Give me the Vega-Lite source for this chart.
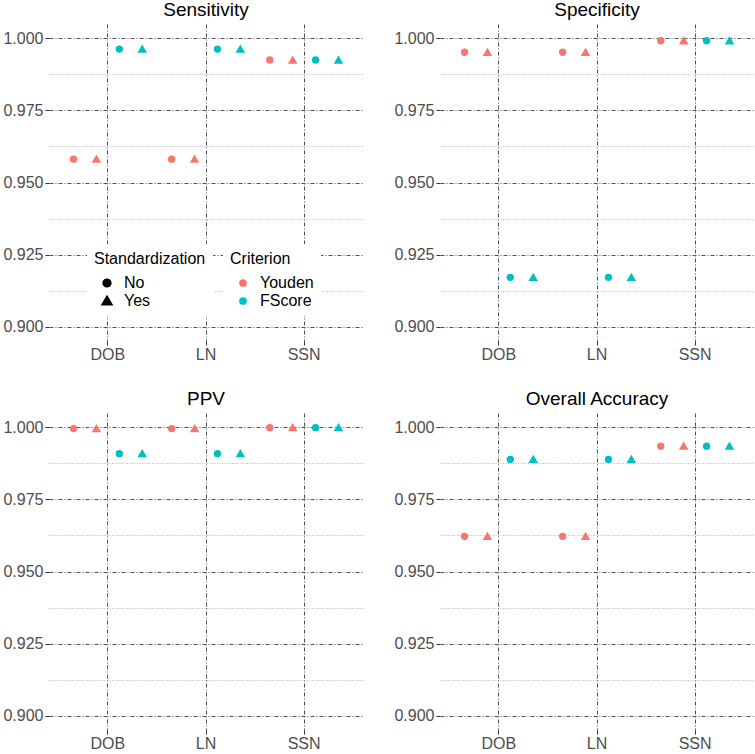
{
  "$schema": "https://vega.github.io/schema/vega-lite/v6.json",
  "padding": {"top": 1, "left": 2, "right": 2, "bottom": 0},
  "background": "white",
  "data": {"values": [
    {"metric": "Sensitivity", "variable": "DOB", "criterion": "Youden", "std": "No", "grp": "Youden No", "value": 0.9581},
    {"metric": "Sensitivity", "variable": "DOB", "criterion": "Youden", "std": "Yes", "grp": "Youden Yes", "value": 0.9581},
    {"metric": "Sensitivity", "variable": "DOB", "criterion": "FScore", "std": "No", "grp": "FScore No", "value": 0.9963},
    {"metric": "Sensitivity", "variable": "DOB", "criterion": "FScore", "std": "Yes", "grp": "FScore Yes", "value": 0.9963},
    {"metric": "Sensitivity", "variable": "LN", "criterion": "Youden", "std": "No", "grp": "Youden No", "value": 0.9581},
    {"metric": "Sensitivity", "variable": "LN", "criterion": "Youden", "std": "Yes", "grp": "Youden Yes", "value": 0.9581},
    {"metric": "Sensitivity", "variable": "LN", "criterion": "FScore", "std": "No", "grp": "FScore No", "value": 0.9963},
    {"metric": "Sensitivity", "variable": "LN", "criterion": "FScore", "std": "Yes", "grp": "FScore Yes", "value": 0.9963},
    {"metric": "Sensitivity", "variable": "SSN", "criterion": "Youden", "std": "No", "grp": "Youden No", "value": 0.9925},
    {"metric": "Sensitivity", "variable": "SSN", "criterion": "Youden", "std": "Yes", "grp": "Youden Yes", "value": 0.9925},
    {"metric": "Sensitivity", "variable": "SSN", "criterion": "FScore", "std": "No", "grp": "FScore No", "value": 0.9925},
    {"metric": "Sensitivity", "variable": "SSN", "criterion": "FScore", "std": "Yes", "grp": "FScore Yes", "value": 0.9925},
    {"metric": "Specificity", "variable": "DOB", "criterion": "Youden", "std": "No", "grp": "Youden No", "value": 0.9952},
    {"metric": "Specificity", "variable": "DOB", "criterion": "Youden", "std": "Yes", "grp": "Youden Yes", "value": 0.9952},
    {"metric": "Specificity", "variable": "DOB", "criterion": "FScore", "std": "No", "grp": "FScore No", "value": 0.9171},
    {"metric": "Specificity", "variable": "DOB", "criterion": "FScore", "std": "Yes", "grp": "FScore Yes", "value": 0.9171},
    {"metric": "Specificity", "variable": "LN", "criterion": "Youden", "std": "No", "grp": "Youden No", "value": 0.9952},
    {"metric": "Specificity", "variable": "LN", "criterion": "Youden", "std": "Yes", "grp": "Youden Yes", "value": 0.9952},
    {"metric": "Specificity", "variable": "LN", "criterion": "FScore", "std": "No", "grp": "FScore No", "value": 0.9171},
    {"metric": "Specificity", "variable": "LN", "criterion": "FScore", "std": "Yes", "grp": "FScore Yes", "value": 0.9171},
    {"metric": "Specificity", "variable": "SSN", "criterion": "Youden", "std": "No", "grp": "Youden No", "value": 0.9992},
    {"metric": "Specificity", "variable": "SSN", "criterion": "Youden", "std": "Yes", "grp": "Youden Yes", "value": 0.9992},
    {"metric": "Specificity", "variable": "SSN", "criterion": "FScore", "std": "No", "grp": "FScore No", "value": 0.9992},
    {"metric": "Specificity", "variable": "SSN", "criterion": "FScore", "std": "Yes", "grp": "FScore Yes", "value": 0.9992},
    {"metric": "PPV", "variable": "DOB", "criterion": "Youden", "std": "No", "grp": "Youden No", "value": 0.9996},
    {"metric": "PPV", "variable": "DOB", "criterion": "Youden", "std": "Yes", "grp": "Youden Yes", "value": 0.9996},
    {"metric": "PPV", "variable": "DOB", "criterion": "FScore", "std": "No", "grp": "FScore No", "value": 0.9909},
    {"metric": "PPV", "variable": "DOB", "criterion": "FScore", "std": "Yes", "grp": "FScore Yes", "value": 0.9909},
    {"metric": "PPV", "variable": "LN", "criterion": "Youden", "std": "No", "grp": "Youden No", "value": 0.9996},
    {"metric": "PPV", "variable": "LN", "criterion": "Youden", "std": "Yes", "grp": "Youden Yes", "value": 0.9996},
    {"metric": "PPV", "variable": "LN", "criterion": "FScore", "std": "No", "grp": "FScore No", "value": 0.9909},
    {"metric": "PPV", "variable": "LN", "criterion": "FScore", "std": "Yes", "grp": "FScore Yes", "value": 0.9909},
    {"metric": "PPV", "variable": "SSN", "criterion": "Youden", "std": "No", "grp": "Youden No", "value": 0.9999},
    {"metric": "PPV", "variable": "SSN", "criterion": "Youden", "std": "Yes", "grp": "Youden Yes", "value": 0.9999},
    {"metric": "PPV", "variable": "SSN", "criterion": "FScore", "std": "No", "grp": "FScore No", "value": 0.9999},
    {"metric": "PPV", "variable": "SSN", "criterion": "FScore", "std": "Yes", "grp": "FScore Yes", "value": 0.9999},
    {"metric": "Overall Accuracy", "variable": "DOB", "criterion": "Youden", "std": "No", "grp": "Youden No", "value": 0.9622},
    {"metric": "Overall Accuracy", "variable": "DOB", "criterion": "Youden", "std": "Yes", "grp": "Youden Yes", "value": 0.9622},
    {"metric": "Overall Accuracy", "variable": "DOB", "criterion": "FScore", "std": "No", "grp": "FScore No", "value": 0.9889},
    {"metric": "Overall Accuracy", "variable": "DOB", "criterion": "FScore", "std": "Yes", "grp": "FScore Yes", "value": 0.9889},
    {"metric": "Overall Accuracy", "variable": "LN", "criterion": "Youden", "std": "No", "grp": "Youden No", "value": 0.9622},
    {"metric": "Overall Accuracy", "variable": "LN", "criterion": "Youden", "std": "Yes", "grp": "Youden Yes", "value": 0.9622},
    {"metric": "Overall Accuracy", "variable": "LN", "criterion": "FScore", "std": "No", "grp": "FScore No", "value": 0.9889},
    {"metric": "Overall Accuracy", "variable": "LN", "criterion": "FScore", "std": "Yes", "grp": "FScore Yes", "value": 0.9889},
    {"metric": "Overall Accuracy", "variable": "SSN", "criterion": "Youden", "std": "No", "grp": "Youden No", "value": 0.9935},
    {"metric": "Overall Accuracy", "variable": "SSN", "criterion": "Youden", "std": "Yes", "grp": "Youden Yes", "value": 0.9935},
    {"metric": "Overall Accuracy", "variable": "SSN", "criterion": "FScore", "std": "No", "grp": "FScore No", "value": 0.9935},
    {"metric": "Overall Accuracy", "variable": "SSN", "criterion": "FScore", "std": "Yes", "grp": "FScore Yes", "value": 0.9935}
  ]},
  "facet": {
    "field": "metric", "type": "nominal",
    "sort": ["Sensitivity", "Specificity", "PPV", "Overall Accuracy"],
    "header": {"title": null, "labelFontSize": 19, "labelColor": "black", "labelFont": "Liberation Sans", "labelPadding": 4}
  },
  "columns": 2,
  "bounds": "flush",
  "spacing": {"row": 72, "column": 77},
  "resolve": {"axis": {"x": "independent", "y": "independent"}},
  "spec": {
    "width": 314,
    "height": 317,
    "mark": {"type": "point", "filled": true, "opacity": 1, "size": 54},
    "encoding": {
      "x": {
        "field": "variable", "type": "nominal", "sort": ["DOB", "LN", "SSN"],
        "scale": {"paddingInner": 0.3, "paddingOuter": 0.25},
        "axis": {"title": null, "labelAngle": 0, "domain": false, "tickColor": "#333333", "tickSize": 4, "labelPadding": 1,
                 "gridColor": "#505050", "gridDash": [4, 2, 1, 2], "gridWidth": 1}
      },
      "xOffset": {
        "field": "grp", "type": "nominal",
        "scale": {"domain": ["Youden No", "Youden Yes", "FScore No", "FScore Yes"], "paddingInner": 0, "paddingOuter": 0}
      },
      "y": {
        "field": "value", "type": "quantitative",
        "scale": {"domain": [0.895, 1.005], "nice": false, "zero": false},
        "axis": {
          "title": null, "domain": false, "format": ".3f",
          "values": [0.9, 0.9125, 0.925, 0.9375, 0.95, 0.9625, 0.975, 0.9875, 1.0],
          "labelExpr": "round(datum.value*1000) % 25 !== 0 ? '' : datum.label",
          "tickColor": "#333333", "tickSize": 4, "labelPadding": 2,
          "tickOpacity": {"condition": {"test": "round(datum.value*1000) % 25 !== 0", "value": 0}, "value": 1},
          "gridColor": {"condition": {"test": "round(datum.value*1000) % 25 !== 0", "value": "#8a8a8a"}, "value": "#505050"},
          "gridDash": {"condition": {"test": "round(datum.value*1000) % 25 !== 0", "value": [1, 1.5]}, "value": [4, 2, 1, 2]},
          "gridWidth": {"condition": {"test": "round(datum.value*1000) % 25 !== 0", "value": 0.6}, "value": 1}
        }
      },
      "color": {
        "field": "criterion", "type": "nominal",
        "scale": {"domain": ["Youden", "FScore"], "range": ["#F8766D", "#00BFC4"]},
        "legend": {"title": "Criterion", "orient": "none", "legendX": 174, "legendY": 220, "symbolType": "circle", "fillColor": "white", "padding": 7, "labelOffset": 9, "symbolOffset": 5}
      },
      "shape": {
        "field": "std", "type": "nominal",
        "scale": {"domain": ["No", "Yes"], "range": ["circle", "M0,-1.25L1.3,1L-1.3,1Z"]},
        "legend": {"title": "Standardization", "orient": "none", "legendX": 38, "legendY": 220, "symbolFillColor": "black", "symbolStrokeColor": "black", "fillColor": "white", "padding": 7, "labelOffset": 9, "symbolOffset": 5}
      }
    }
  },
  "config": {
    "font": "Liberation Sans",
    "view": {"stroke": null},
    "axis": {"labelFont": "Liberation Sans", "labelFontSize": 16, "labelColor": "#4d4d4d", "grid": true},
    "legend": {"titleFont": "Liberation Sans", "titleFontSize": 16, "titleFontWeight": "normal", "titleColor": "black",
               "labelFont": "Liberation Sans", "labelFontSize": 16, "labelColor": "black", "symbolSize": 60, "rowPadding": 2, "titlePadding": 8}
  }
}
